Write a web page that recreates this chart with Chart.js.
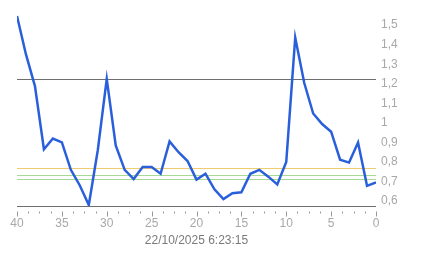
<!DOCTYPE html>
<html>
<head>
<meta charset="utf-8">
<script src="https://cdn.jsdelivr.net/npm/chart.js@4"></script>
<style>
  html, body { margin: 0; padding: 0; background: #fff; }
  #wrap { width: 443px; height: 258px; }
</style>
</head>
<body>
<div id="wrap"><canvas id="chart"></canvas></div>
<script>
// samples, oldest (40) to newest (0)
const xSteps = [40, 39, 38, 37, 36, 35, 34, 33, 32, 31, 30, 29, 28, 27, 26, 25, 24, 23, 22, 21,
                20, 19, 18, 17, 16, 15, 14, 13, 12, 11, 10, 9, 8, 7, 6, 5, 4, 3, 2, 1, 0];
const values = [1.547, 1.35, 1.188, 0.865, 0.92, 0.90, 0.76, 0.68, 0.58, 0.86, 1.225, 0.885, 0.76, 0.713,
                0.775, 0.775, 0.74, 0.905, 0.85, 0.805, 0.71, 0.74, 0.66, 0.61, 0.64, 0.645, 0.74, 0.76,
                0.725, 0.685, 0.80, 1.436, 1.205, 1.048, 0.994, 0.955, 0.812, 0.797, 0.90, 0.678, 0.696];
const yTicks = [0.6, 0.7, 0.8, 0.9, 1.0, 1.1, 1.2, 1.3, 1.4, 1.5];
const xLabels = [40, 35, 30, 25, 20, 15, 10, 5, 0];
const refValues = [1.226, 0.768, 0.734, 0.714];
const refColors = ['#6e6e6e', '#f0cc70', '#a6da94', '#a6da94'];
const timestamp = '22/10/2025 6:23:15';

const points = xSteps.map((x, i) => ({ x: x, y: values[i] }));

// reference lines + x axis base line and tick marks
const overlay = {
  id: 'overlay',
  beforeDatasetsDraw(chart) {
    const ctx = chart.ctx;
    const area = chart.chartArea;
    const y = chart.scales.y;
    const x = chart.scales.x;
    ctx.save();
    ctx.lineWidth = 1;
    refValues.forEach((v, i) => {
      const py = Math.round(y.getPixelForValue(v)) + 0.5;
      ctx.strokeStyle = refColors[i];
      ctx.beginPath();
      ctx.moveTo(area.left, py);
      ctx.lineTo(area.right, py);
      ctx.stroke();
    });
    // base line
    const by = Math.round(area.bottom) + 0.5;
    ctx.strokeStyle = '#6e6e6e';
    ctx.beginPath();
    ctx.moveTo(area.left, by);
    ctx.lineTo(area.right, by);
    ctx.stroke();
    // ticks under the base line
    ctx.strokeStyle = '#999';
    for (let v = 0; v <= 40.001; v += 1.25) {
      const px = Math.round(x.getPixelForValue(v)) + 0.5;
      const major = Math.abs(v % 5) < 0.001;
      ctx.beginPath();
      ctx.moveTo(px, by + 5);
      ctx.lineTo(px, by + (major ? 10 : 7));
      ctx.stroke();
    }
    ctx.restore();
  }
};

new Chart(document.getElementById('chart'), {
  type: 'line',
  data: {
    datasets: [{
      data: points,
      borderColor: '#2a5fdc',
      borderWidth: 2.5,
      pointRadius: 0,
      tension: 0,
      fill: false
    }]
  },
  options: {
    responsive: true,
    maintainAspectRatio: false,
    animation: false,
    layout: { padding: { left: 17, right: 0, top: 4, bottom: 0 } },
    plugins: { legend: { display: false }, tooltip: { enabled: false } },
    scales: {
      x: {
        type: 'linear',
        reverse: true,
        min: 0,
        max: 40,
        grid: { display: false, drawTicks: false },
        border: { display: false },
        afterBuildTicks: s => { s.ticks = xLabels.map(v => ({ value: v })); },
        afterFit: s => { s.height = 52; },
        ticks: {
          color: '#a8a8a8',
          font: { family: 'Liberation Sans, Arial', size: 12 },
          padding: 10,
          maxRotation: 0,
          autoSkip: false
        },
        title: {
          display: true,
          text: timestamp,
          color: '#7a7a7a',
          font: { family: 'Liberation Sans, Arial', size: 12 },
          padding: { top: 2, bottom: 10 }
        }
      },
      y: {
        position: 'right',
        min: 0.575,
        max: 1.566,
        grid: { display: false, drawTicks: false },
        border: { display: false },
        afterBuildTicks: s => { s.ticks = yTicks.map(v => ({ value: v })); },
        afterFit: s => { s.width = 67; },
        ticks: {
          color: '#a8a8a8',
          font: { family: 'Liberation Sans, Arial', size: 12 },
          padding: 5,
          callback: v => String(Math.round(v * 10) / 10).replace('.', ',')
        }
      }
    }
  },
  plugins: [overlay]
});
</script>
</body>
</html>
